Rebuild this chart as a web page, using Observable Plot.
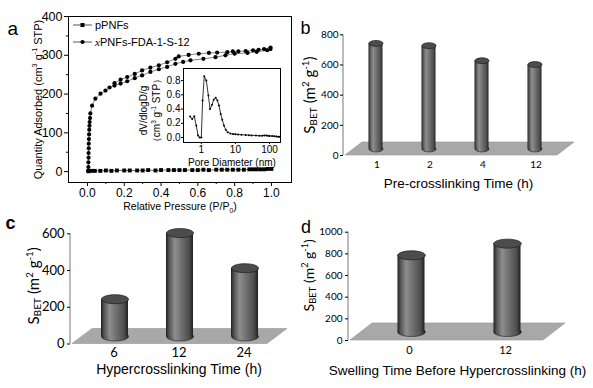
<!DOCTYPE html>
<html><head><meta charset="utf-8">
<script src="https://cdn.jsdelivr.net/npm/d3@7"></script>
<script src="https://cdn.jsdelivr.net/npm/@observablehq/plot@0.6"></script>
<style>
body{margin:0;background:#fff;}
#fig{position:relative;width:593px;height:388px;overflow:hidden;background:#fff;}
</style></head><body><div id="fig"></div>
<script>
// ---------- DATA ----------
// Panel a: N2 isotherms
const seriesNames = ["pPNFs", "xPNFs-FDA-1-S-12"];
const pX = [0.005,0.02,0.04,0.07,0.1,0.13,0.16,0.2,0.23,0.27,0.3,0.33,0.37,0.4,0.44,0.47,0.5,0.53,0.57,0.6,0.63,0.66,0.7,0.73,0.76,0.79,0.82,0.85,0.88,0.9,0.92,0.94,0.96,0.98,1.0];
const pY = [1,2,2,2,3,2,3,3,3,3,3,4,3,4,4,4,4,4,4,4,5,4,5,5,5,5,5,5,6,6,6,6,6,7,7];
const adsX = [0.004,0.005,0.005,0.006,0.006,0.007,0.007,0.008,0.009,0.010,0.011,0.012,0.014,0.016,0.025,0.043,0.071,0.098,0.12,0.147,0.18,0.216,0.257,0.297,0.342,0.388,0.433,0.478,0.52,0.56,0.63,0.696,0.75,0.80,0.87,0.92,0.977,0.995];
const adsY = [2,12,24,36,48,60,72,84,96,108,118,128,138,150,170,188,201,209,217,222,227,233,241,248,257,264,270,278,283,287,291,295,300,304,306,309,313,316];
const desX = [0.995,0.96,0.93,0.9,0.86,0.82,0.79,0.76,0.705,0.66,0.605,0.55,0.496,0.478,0.433,0.388,0.342,0.297,0.257,0.216,0.18,0.147];
const desY = [320,316,314,313,311,310,310,308,307,306,304,301,297,291,282,274,268,261,252,244,237,228];
const aXTicks = [0,0.2,0.4,0.6,0.8,1.0];
const aXMinor = [0.1,0.3,0.5,0.7,0.9];
const aYTicks = [0,100,200,300,400];
const aYMinor = [50,150,250,350];
// inset: pore size distribution
const psdX = [0.47,0.54,0.62,0.71,0.80,0.89,1.0,1.09,1.22,1.40,1.61,1.80,2.06,2.3,2.64,2.96,3.3,3.7,4.1,4.6,5.2,5.9,7.1,8.5,10,12,15,20,25,30,40,50,60,70,80,90,100,120,140,160,180,200];
const psdY = [0.295,0.26,0.30,0.17,0.03,0.0,0.0,0.52,0.86,0.80,0.59,0.40,0.46,0.53,0.56,0.52,0.45,0.33,0.25,0.17,0.11,0.075,0.055,0.048,0.045,0.042,0.04,0.035,0.032,0.03,0.028,0.025,0.025,0.03,0.028,0.025,0.022,0.02,0.018,0.015,0.012,0.01];
const psdXTicks = [1,10,100];
const psdYTicks = [0,0.2,0.4,0.6,0.8];
// Panel b
const bCats = ["1","2","4","12"];
const bVals = [700,685,585,560];
const bTicks = [0,200,400,600,800];
// Panel c
const cCats = ["6","12","24"];
const cVals = [203,563,372];
const cTicks = [0,200,400,600];
// Panel d
const dCats = ["0","12"];
const dVals = [708,816];
const dTicks = [0,200,400,600,800,1000];

// ---------- HELPERS ----------
const SANS = "'Liberation Sans', Arial, sans-serif";
const NS = "http://www.w3.org/2000/svg";
const fig = document.getElementById("fig");
function place(svg, left, top) {
  svg.style.position = "absolute"; svg.style.left = left + "px"; svg.style.top = top + "px";
  fig.appendChild(svg);
}
function rich(svg, key, parts, fs) {
  svg.querySelectorAll("text").forEach(t => {
    if (t.textContent !== key) return;
    while (t.firstChild) t.removeChild(t.firstChild);
    let shift = 0;
    for (const [s, k] of parts) {
      const ts = document.createElementNS(NS, "tspan");
      const target = k === "sub" ? 0.12 * fs : k === "lo" ? 0.3 * fs : k === "sup" ? -0.42 * fs : 0;
      ts.setAttribute("dy", (target - shift).toFixed(2));
      shift = target;
      if (k) ts.setAttribute("font-size", (k === "sub" ? 0.68 : 0.65) * fs);
      ts.textContent = s;
      t.appendChild(ts);
    }
  });
}
function ellipseSymbol(rx, ry) {
  const k = 0.5523;
  return {draw(ctx) {
    ctx.moveTo(-rx, 0);
    ctx.bezierCurveTo(-rx, -ry * k, -rx * k, -ry, 0, -ry);
    ctx.bezierCurveTo(rx * k, -ry, rx, -ry * k, rx, 0);
    ctx.bezierCurveTo(rx, ry * k, rx * k, ry, 0, ry);
    ctx.bezierCurveTo(-rx * k, ry, -rx, ry * k, -rx, 0);
    ctx.closePath();
  }};
}
const sbetParts = [["S",""],["BET","sub"],[" (m",""],["2","sup"],[" g",""],["-1","sup"],[")",""]];
const T = {lineAnchor: "middle", textAnchor: "middle"};

// ---------- PANEL A ----------
const pp = pX.map((x, i) => ({x, y: pY[i]}));
const ads = adsX.map((x, i) => ({x, y: adsY[i]}));
const des = desX.map((x, i) => ({x, y: desY[i]}));
function legendA(index, scales, values, dim) {
  const g = d3.create("svg:g").attr("font-size", 11).attr("font-family", SANS).attr("text-anchor", "start");
  seriesNames.forEach((name, i) => {
    const y = dim.marginTop + 9 + i * 17;
    const x0 = dim.marginLeft + 5;
    g.append("line").attr("x1", x0).attr("x2", x0 + 19).attr("y1", y).attr("y2", y).attr("stroke", "#444").attr("stroke-width", 0.9);
    if (i === 0) g.append("rect").attr("x", x0 + 7.5).attr("y", y - 2).attr("width", 4).attr("height", 4).attr("fill", "#000");
    else g.append("circle").attr("cx", x0 + 9.5).attr("cy", y).attr("r", 2.1).attr("fill", "#000");
    const t = g.append("text").attr("x", x0 + 22).attr("y", y).attr("dy", "0.35em").attr("fill", "#000");
    if (name.startsWith("x")) {
      t.append("tspan").attr("font-style", "italic").attr("font-family", "'Liberation Serif', serif").text("x");
      t.append("tspan").text(name.slice(1));
    } else t.text(name);
  });
  return g.node();
}
const svgA = Plot.plot({
  width: 300, height: 215, marginLeft: 68, marginRight: 9, marginTop: 16, marginBottom: 33,
  style: {fontFamily: SANS, fontSize: "12px", background: "transparent", overflow: "visible", color: "#000"},
  x: {domain: [-0.103, 1.109]},
  y: {domain: [-28, 400]},
  marks: [
    Plot.axisY({ticks: aYTicks, tickSize: 4, tickPadding: 2, fontSize: 12.5, label: null, tickFormat: d => String(d)}),
    Plot.axisY({ticks: aYMinor, tickSize: 2, label: null, tickFormat: () => ""}),
    Plot.axisX({ticks: aXTicks, tickSize: 4, tickPadding: 2, fontSize: 12, label: null, tickFormat: d3.format(".1f")}),
    Plot.axisX({ticks: aXMinor, tickSize: 2, label: null, tickFormat: () => ""}),
    Plot.frame({stroke: "#000", strokeWidth: 1}),
    Plot.line(pp, {x: "x", y: "y", stroke: "#444", strokeWidth: 0.8}),
    Plot.dot(pp, {x: "x", y: "y", symbol: "square", r: 2.2, fill: "#000"}),
    Plot.line(ads, {x: "x", y: "y", stroke: "#666", strokeWidth: 0.8}),
    Plot.line(des, {x: "x", y: "y", stroke: "#666", strokeWidth: 0.8}),
    Plot.dot(ads, {x: "x", y: "y", r: 2.1, fill: "#000"}),
    Plot.dot(des, {x: "x", y: "y", r: 2.1, fill: "#000"}),
    legendA,
    Plot.text(["a"], {frameAnchor: "top-left", text: d => d, dx: -61, dy: 12, fontSize: 19, lineAnchor: "middle", textAnchor: "start"}),
    Plot.text(["YLABA"], {frameAnchor: "left", text: d => d, rotate: -90, dx: -30, dy: 0, fontSize: 11, ...T}),
    Plot.text(["XLABA"], {frameAnchor: "bottom", text: d => d, dx: 0, dy: 24, fontSize: 10.5, ...T})
  ]
});
rich(svgA, "YLABA", [["Quantity Adsorbed (cm",""],["3","sup"],[" g",""],["-1","sup"],[" STP)",""]], 11);
rich(svgA, "XLABA", [["Relative Pressure (P/P",""],["0","lo"],[")",""]], 10.5);
place(svgA, 0, 0);

// ---------- INSET ----------
const psd = psdX.map((x, i) => ({x, y: psdY[i]}));
const svgI = Plot.plot({
  width: 160, height: 115, marginLeft: 53, marginRight: 10, marginTop: 10, marginBottom: 31,
  style: {fontFamily: SANS, fontSize: "10px", background: "transparent", overflow: "visible", color: "#000"},
  x: {type: "log", domain: [0.3, 210]},
  y: {domain: [-0.07, 0.97]},
  marks: [
    Plot.frame({fill: "#fff", stroke: "#000", strokeWidth: 1}),
    Plot.axisY({ticks: psdYTicks, tickSize: 2, tickPadding: 1, fontSize: 10, label: null, tickFormat: d3.format(".1f")}),
    Plot.axisX({ticks: psdXTicks, tickSize: 2, tickPadding: 1, fontSize: 10, label: null, tickFormat: d => String(d)}),
    Plot.line(psd, {x: "x", y: "y", stroke: "#000", strokeWidth: 0.8}),
    Plot.dot(psd, {x: "x", y: "y", r: 1, fill: "#000"}),
    Plot.text(["Pore Diameter (nm)"], {frameAnchor: "bottom", text: d => d, dy: 20, fontSize: 10, ...T}),
    Plot.text(["dV/dlogD/g"], {frameAnchor: "left", text: d => d, rotate: -90, dx: -40, dy: 5, fontSize: 10, ...T}),
    Plot.text(["YLABI"], {frameAnchor: "left", text: d => d, rotate: -90, dx: -27, dy: 5, fontSize: 10, ...T})
  ]
});
rich(svgI, "YLABI", [["（cm",""],["3","sup"],[" g",""],["-1","sup"],[" STP）",""]], 10);
place(svgI, 130, 58);

// ---------- CYLINDER PANELS ----------
function cylPanel(c) {
  const data = c.cats.map((cat, i) => ({cat, v: c.vals[i]}));
  const defs = () => {
    const d = d3.create("svg:defs");
    const lg = d.append("linearGradient").attr("id", c.id).attr("x1", "0").attr("x2", "1").attr("y1", "0").attr("y2", "0");
    [[0, "#1c1c1c"], [0.1, "#505050"], [0.32, "#8e8e8e"], [0.55, "#717171"], [0.85, "#4e4e4e"], [1, "#202020"]]
      .forEach(([o, col]) => lg.append("stop").attr("offset", o).attr("stop-color", col));
    return d.node();
  };
  const floor = (index, scales, values, dim) => {
    const y0 = dim.height - dim.marginBottom, xl = dim.marginLeft, xr = dim.width - dim.marginRight;
    const [fx, fy] = c.depth;
    const g = d3.create("svg:g");
    g.append("polygon").attr("points", [[xl, y0], [xr, y0], [xr + fx, y0 - fy], [xl + fx, y0 - fy]].join(" "))
      .attr("fill", "#a8a8a8").attr("stroke", "#969696").attr("stroke-width", 0.6);
    g.append("line").attr("x1", xl - 2).attr("x2", xl - 2).attr("y1", y0).attr("y2", dim.marginTop)
      .attr("stroke", "#555").attr("stroke-width", 0.8);
    return g.node();
  };
  const url = `url(#${c.id})`;
  const svg = Plot.plot({
    width: c.width, height: c.height, marginLeft: c.m[0], marginRight: c.m[1], marginTop: c.m[2], marginBottom: c.m[3],
    style: {fontFamily: "Lato, sans-serif", fontSize: "10px", background: "transparent", overflow: "visible", color: "#000"},
    x: {type: "band", domain: c.cats, padding: 0},
    y: {domain: [0, c.ticks[c.ticks.length - 1]]},
    marks: [
      defs, floor,
      Plot.axisY({ticks: c.ticks, tickSize: 3, tickPadding: c.yPad, fontSize: c.yFont, dx: -2, label: null, tickFormat: d => String(d)}),
      Plot.axisX({tickSize: 0, tickPadding: c.xPad, fontSize: c.xFont, dx: c.xDx, label: null}),
      Plot.dot(data, {x: "cat", y: () => 0, symbol: ellipseSymbol(c.rx, c.ry), fill: url, stroke: "#222", strokeWidth: 0.6, dx: c.bdx, dy: c.bdy}),
      Plot.barY(data, {x: "cat", y: "v", fill: url, insetLeft: c.inset, insetRight: c.inset, dx: c.bdx, dy: c.bdy}),
      Plot.dot(data, {x: "cat", y: "v", symbol: ellipseSymbol(c.rx, c.ry), fill: "#4c4c4c", stroke: "#1e1e1e", strokeWidth: 0.7, dx: c.bdx, dy: c.bdy}),
      Plot.text([c.letter], {frameAnchor: "top-left", text: d => d, dx: c.letterPos[0], dy: c.letterPos[1], fontSize: 18, fontWeight: c.letterWeight, fontFamily: SANS, lineAnchor: "middle", textAnchor: "start"}),
      Plot.text([c.title], {frameAnchor: "bottom", text: d => d, dx: c.titlePos[0], dy: c.titlePos[1], fontSize: c.titleFont, fontFamily: SANS, ...T}),
      Plot.text(["SBETKEY"], {frameAnchor: "left", text: d => d, rotate: -90, dx: c.ylabPos[0], dy: c.ylabPos[1], fontSize: c.ylabFont, ...T})
    ]
  });
  rich(svg, "SBETKEY", sbetParts, c.ylabFont);
  return svg;
}

place(cylPanel({
  id: "gradB", cats: bCats, vals: bVals, ticks: bTicks, width: 303, height: 200, m: [55, 36, 34.3, 45],
  depth: [17, 13], bdx: 4, bdy: -6.5, inset: 19.5, rx: 7, ry: 2.9,
  yPad: 2, yFont: 10, xPad: 5, xFont: 10, xDx: 5,
  letter: "b", letterPos: [-45, -7], letterWeight: "normal",
  title: "Pre-crosslinking Time (h)", titlePos: [7, 28], titleFont: 13.5,
  ylabPos: [-35, 0], ylabFont: 15
}), 290, 0);

place(cylPanel({
  id: "gradC", cats: cCats, vals: cVals, ticks: cTicks, width: 300, height: 188, m: [72, 33, 33.3, 44.5],
  depth: [20, 15], bdx: 10, bdy: -7.5, inset: 19, rx: 13.5, ry: 4.5,
  yPad: 3, yFont: 13, xPad: 4, xFont: 13, xDx: 9,
  letter: "c", letterPos: [-67, -10.6], letterWeight: "bold",
  title: "Hypercrosslinking Time (h)", titlePos: [9, 26], titleFont: 14,
  ylabPos: [-38, -3], ylabFont: 15
}), 0, 200);

place(cylPanel({
  id: "gradD", cats: dCats, vals: dVals, ticks: dTicks, width: 293, height: 188, m: [50, 50, 31.7, 48],
  depth: [22, 17], bdx: 12, bdy: -8.5, inset: 34.5, rx: 13.8, ry: 4.5,
  yPad: 3, yFont: 10, xPad: 6, xFont: 11, xDx: 10,
  letter: "d", letterPos: [-49.5, -4.5], letterWeight: "normal",
  title: "Swelling Time Before Hypercrosslinking (h)", titlePos: [10.5, 30], titleFont: 13.5,
  ylabPos: [-41, -11], ylabFont: 14
}), 300, 200);
</script></body></html>
